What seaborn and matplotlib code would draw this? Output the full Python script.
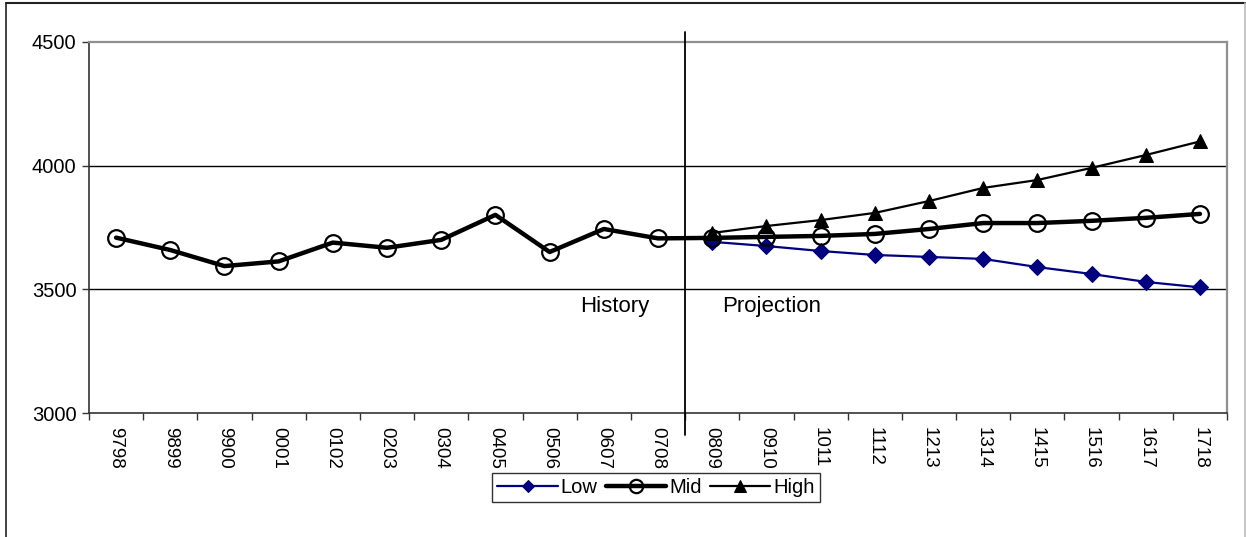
import numpy as np
import pandas as pd
import seaborn as sns
import matplotlib.pyplot as plt
from matplotlib.lines import Line2D

# financial years (history + projection)
years = ['9798', '9899', '9900', '0001', '0102', '0203', '0304', '0405', '0506',
         '0607', '0708', '0809', '0910', '1011', '1112', '1213', '1314', '1415',
         '1516', '1617', '1718']
mid = [3709, 3659, 3594, 3613, 3689, 3668, 3700, 3801, 3651, 3744, 3706,
       3708, 3712, 3716, 3724, 3744, 3768, 3768, 3777, 3789, 3805]
proj_years = years[11:]
low = [3692, 3675, 3655, 3639, 3631, 3623, 3590, 3562, 3530, 3508]
high = [3728, 3756, 3780, 3809, 3857, 3910, 3942, 3991, 4043, 4098]

sns.set_theme(style='white')
plt.rcParams['font.family'] = ['Liberation Sans', 'DejaVu Sans']
plt.rcParams['text.color'] = 'black'
plt.rcParams['xtick.color'] = 'black'
plt.rcParams['ytick.color'] = 'black'

fig = plt.figure(figsize=(12.46, 5.37), dpi=100)
ax = fig.add_axes([0.0714, 0.2309, 0.9134, 0.6909])

pos = {y: i for i, y in enumerate(years)}
x_mid = [pos[y] for y in years]
x_proj = [pos[y] for y in proj_years]

sns.lineplot(x=x_proj, y=low, ax=ax, color='#000080', lw=1.6, marker='D',
             markersize=8, markeredgecolor='#000080', label='Low', zorder=3)
sns.lineplot(x=x_mid, y=mid, ax=ax, color='black', lw=3.2, marker='o',
             markersize=12, markerfacecolor='none', markeredgecolor='black',
             markeredgewidth=1.6, label='Mid', zorder=4)
sns.lineplot(x=x_proj, y=high, ax=ax, color='black', lw=1.6, marker='^',
             markersize=10, markeredgecolor='black', label='High', zorder=5)

ax.set_xlim(-0.5, len(years) - 0.5)
ax.set_ylim(3000, 4500)
ax.set_yticks([3000, 3500, 4000, 4500])
ax.set_xticks(range(len(years)))
ax.set_xticklabels(years, rotation=-90)
ax.set_xticks(np.arange(-0.5, len(years)), minor=True)
ax.tick_params(axis='x', which='major', length=0, pad=10, labelsize=13.5)
ax.tick_params(axis='x', which='minor', length=5, width=1, color='#333333',
               direction='out', bottom=True)
ax.tick_params(axis='y', length=5, width=1, color='#333333', direction='out',
               left=True, pad=4, labelsize=14.5)
ax.set_xlabel('')
ax.set_ylabel('')

for v in [3500, 4000]:
    ax.axhline(v, color='black', lw=1, zorder=1)

for s in ['left', 'bottom']:
    ax.spines[s].set_color('#333333')
    ax.spines[s].set_linewidth(1.2)
for s in ['top', 'right']:
    ax.spines[s].set_color('#909090')
    ax.spines[s].set_linewidth(1.6)

# history / projection divider
ax.plot([10.5, 10.5], [2911, 4540], color='black', lw=1.3, clip_on=False, zorder=6)
ax.text(9.2, 3430, 'History', ha='center', va='center', fontsize=16)
ax.text(12.1, 3430, 'Projection', ha='center', va='center', fontsize=16)

leg = ax.legend(loc='center', bbox_to_anchor=(0.5265, 0.093),
                bbox_transform=fig.transFigure, ncol=3, frameon=True,
                fancybox=False, edgecolor='black', fontsize=14.5,
                handlelength=3.0, handletextpad=0.15, columnspacing=0.4,
                borderpad=0.25, borderaxespad=0, markerscale=0.8)
leg.get_frame().set_linewidth(1)

# outer chart border
fig.add_artist(Line2D([0.0045, 1.0], [0.994, 0.994], transform=fig.transFigure,
                      color='#222222', lw=1.5))
fig.add_artist(Line2D([0.0045, 0.0045], [0.0, 0.994], transform=fig.transFigure,
                      color='#222222', lw=1.2))
fig.add_artist(Line2D([0.9993, 0.9993], [0.0, 0.994], transform=fig.transFigure,
                      color='#bbbbbb', lw=1.2))

fig.savefig('out.png', dpi=100)
